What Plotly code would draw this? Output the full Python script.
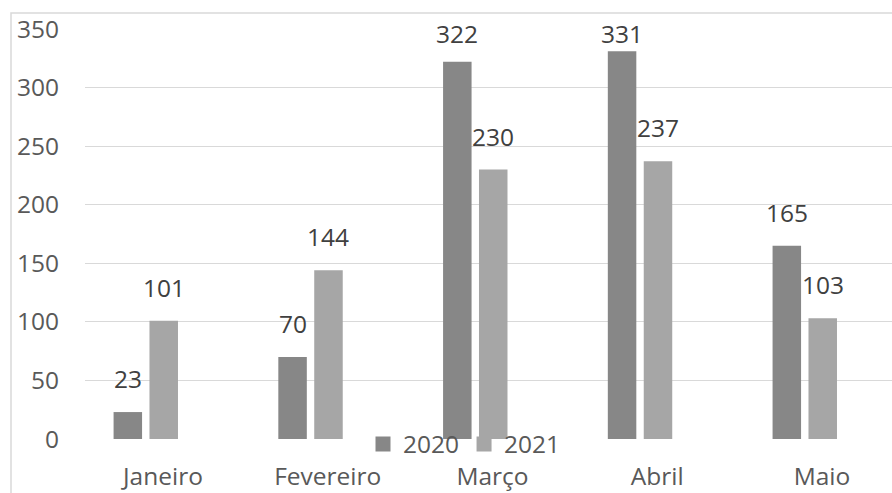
import plotly.graph_objects as go

months = ["Janeiro", "Fevereiro", "Março", "Abril", "Maio"]
series_names = ["2020", "2021"]
values_2020 = [23, 70, 322, 331, 165]
values_2021 = [101, 144, 230, 237, 103]
y_ticks = [0, 50, 100, 150, 200, 250, 300, 350]

W, H = 892, 493
ML, MR, MT, MB = 85, 0, 29, 54
PW, PH = W - ML - MR, H - MT - MB
X_RANGE = [-0.4734, 4.4249]
Y_RANGE = [0, 350]

FONT = "Open Sans"
FS = 24.5
TICK_COLOR = "#595959"
LABEL_COLOR = "#404040"
COLORS = ["#878787", "#a6a6a6"]
BAR_OFFSETS = [-0.300, -0.082]
BAR_WIDTH = 0.173
LABEL_CAP = 317.5

xs = list(range(len(months)))
fig = go.Figure()
for name, vals, col, off in zip(series_names, [values_2020, values_2021], COLORS, BAR_OFFSETS):
    fig.add_trace(go.Bar(
        x=xs, y=vals, name=name, offset=off, width=BAR_WIDTH,
        marker=dict(color=col, line=dict(width=0)), showlegend=False,
    ))
# legend entries with larger square swatches
for name, col in zip(series_names, COLORS):
    fig.add_trace(go.Scatter(
        x=[None], y=[None], mode="markers", name=name,
        marker=dict(symbol="square", size=15, color=col, line=dict(width=0)),
    ))

annotations = []
for vals, off in zip([values_2020, values_2021], BAR_OFFSETS):
    for i, v in zip(xs, vals):
        annotations.append(dict(
            x=i + off + BAR_WIDTH / 2, y=min(v, LABEL_CAP), xref="x", yref="y",
            text=str(v), showarrow=False, yanchor="bottom", yshift=15,
            font=dict(family=FONT, size=FS, color=LABEL_COLOR),
        ))

px2paper_x = lambda p: (p - ML) / PW
px2paper_y = lambda p: (H - MB - p) / PH

fig.update_layout(
    width=W, height=H,
    margin=dict(l=ML, r=MR, t=MT, b=MB, pad=0),
    paper_bgcolor="white", plot_bgcolor="white",
    font=dict(family=FONT, size=FS, color=TICK_COLOR),
    showlegend=True,
    legend=dict(
        orientation="h", x=px2paper_x(363), y=px2paper_y(444),
        xanchor="left", yanchor="middle", bgcolor="rgba(0,0,0,0)",
        font=dict(family=FONT, size=FS, color=TICK_COLOR),
        itemwidth=30, tracegroupgap=0,
    ),
    xaxis=dict(
        range=X_RANGE, tickmode="array", tickvals=xs, ticktext=months,
        showgrid=False, zeroline=False, showline=False, ticks="",
        ticklabelstandoff=20, fixedrange=True,
    ),
    yaxis=dict(
        range=Y_RANGE, tickmode="array", tickvals=y_ticks,
        showgrid=True, gridcolor="#d9d9d9", gridwidth=1.3,
        zeroline=False, showline=False, ticks="",
        ticklabelstandoff=25, fixedrange=True,
    ),
    annotations=annotations,
    shapes=[dict(
        type="rect", xref="paper", yref="paper",
        x0=px2paper_x(11), x1=px2paper_x(W + 20),
        y0=px2paper_y(H + 20), y1=px2paper_y(13),
        line=dict(color="#d9d9d9", width=1.5), fillcolor="rgba(0,0,0,0)",
        layer="below",
    )],
)

fig.write_html("out.html")
